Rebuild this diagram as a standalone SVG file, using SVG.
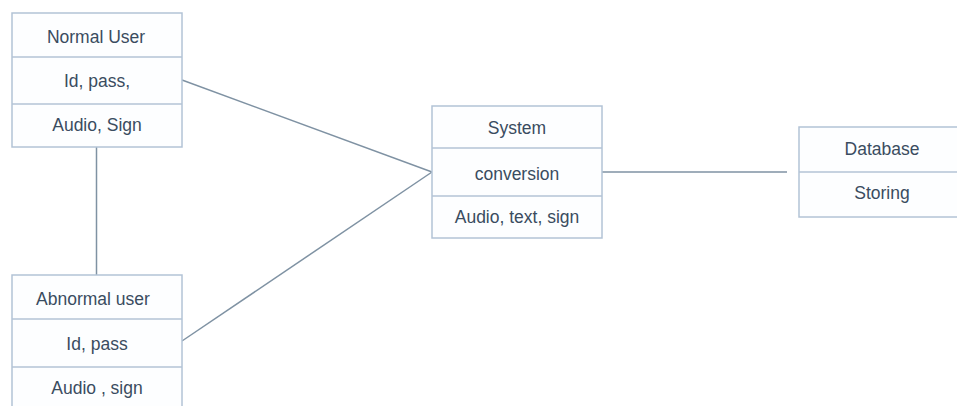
<svg xmlns="http://www.w3.org/2000/svg" width="957" height="406" viewBox="0 0 957 406">
<style>
.box{fill:#fdfeff;stroke:#b3c3d6;stroke-width:1.5}
.div{stroke:#b3c3d6;stroke-width:1.5}
.t{font-family:"Liberation Sans",Arial,sans-serif;font-size:17.5px;fill:#3a4c60;text-anchor:middle}
.c{stroke:#7f92a3;stroke-width:1.5;fill:none}
</style>
<rect width="957" height="406" fill="#ffffff"/>
<g id="connectors">
<line class="c" x1="96.5" y1="147" x2="96.5" y2="275"/>
<line class="c" x1="182" y1="80" x2="432" y2="172"/>
<line class="c" x1="182" y1="341" x2="432" y2="172"/>
<line class="c" x1="602" y1="172" x2="787" y2="172"/>
</g>
<g id="normal-user">
<rect class="box" x="12" y="13" width="170" height="134"/>
<line class="div" x1="12" y1="57" x2="182" y2="57"/>
<line class="div" x1="12" y1="104" x2="182" y2="104"/>
<text class="t" x="96" y="43">Normal User</text>
<text class="t" x="97" y="87">Id, pass,</text>
<text class="t" x="97" y="131">Audio, Sign</text>
</g>
<g id="abnormal-user">
<rect class="box" x="12" y="275" width="170" height="140"/>
<line class="div" x1="12" y1="319" x2="182" y2="319"/>
<line class="div" x1="12" y1="367" x2="182" y2="367"/>
<text class="t" x="93" y="305">Abnormal user</text>
<text class="t" x="97" y="350">Id, pass</text>
<text class="t" x="97" y="394">Audio , sign</text>
</g>
<g id="system">
<rect class="box" x="432" y="106" width="170" height="132"/>
<line class="div" x1="432" y1="148" x2="602" y2="148"/>
<line class="div" x1="432" y1="196" x2="602" y2="196"/>
<text class="t" x="517" y="134">System</text>
<text class="t" x="517" y="180">conversion</text>
<text class="t" x="517" y="223">Audio, text, sign</text>
</g>
<g id="database">
<rect class="box" x="799" y="127" width="170" height="90"/>
<line class="div" x1="799" y1="172" x2="969" y2="172"/>
<text class="t" x="882" y="155">Database</text>
<text class="t" x="882" y="199">Storing</text>
</g>
</svg>
